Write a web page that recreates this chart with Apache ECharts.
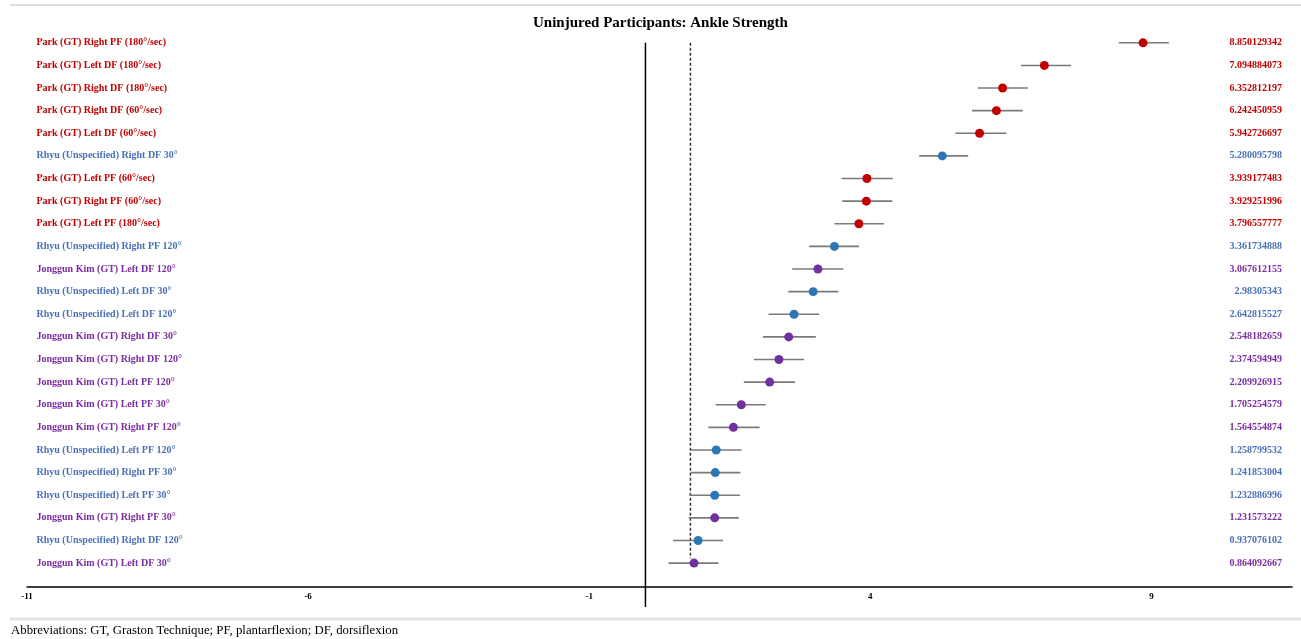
<!DOCTYPE html>
<html><head><meta charset="utf-8">
<script src="https://cdn.jsdelivr.net/npm/echarts@6/dist/echarts.min.js"></script>
<style>html,body{margin:0;padding:0;background:#fff}#c{width:1301px;height:639px}</style>
</head><body><div id="c"></div>
<script>
const labels = [
  'Park (GT) Right PF (180°/sec)',
  'Park (GT) Left DF (180°/sec)',
  'Park (GT) Right DF (180°/sec)',
  'Park (GT) Right DF (60°/sec)',
  'Park (GT) Left DF (60°/sec)',
  'Rhyu (Unspecified) Right DF 30°',
  'Park (GT) Left PF (60°/sec)',
  'Park (GT) Right PF (60°/sec)',
  'Park (GT) Left PF (180°/sec)',
  'Rhyu (Unspecified) Right PF 120°',
  'Jonggun Kim (GT) Left DF 120°',
  'Rhyu (Unspecified) Left DF 30°',
  'Rhyu (Unspecified) Left DF 120°',
  'Jonggun Kim (GT) Right DF 30°',
  'Jonggun Kim (GT) Right DF 120°',
  'Jonggun Kim (GT) Left PF 120°',
  'Jonggun Kim (GT) Left PF 30°',
  'Jonggun Kim (GT) Right PF 120°',
  'Rhyu (Unspecified) Left PF 120°',
  'Rhyu (Unspecified) Right PF 30°',
  'Rhyu (Unspecified) Left PF 30°',
  'Jonggun Kim (GT) Right PF 30°',
  'Rhyu (Unspecified) Right DF 120°',
  'Jonggun Kim (GT) Left DF 30°'
];
const studies = [
  'Park','Park','Park','Park','Park','Rhyu','Park','Park','Park','Rhyu','Kim','Rhyu',
  'Rhyu','Kim','Kim','Kim','Kim','Kim','Rhyu','Rhyu','Rhyu','Kim','Rhyu','Kim'
];
const estimates = [
  8.850129342, 7.094884073, 6.352812197, 6.242450959, 5.942726697, 5.280095798,
  3.939177483, 3.929251996, 3.796557777, 3.361734888, 3.067612155, 2.98305343,
  2.642815527, 2.548182659, 2.374594949, 2.209926915, 1.705254579, 1.564554874,
  1.258799532, 1.241853004, 1.232886996, 1.231573222, 0.937076102, 0.864092667
];
const lowerCI = [
  8.42, 6.68, 5.91, 5.81, 5.51, 4.87,
  3.49, 3.50, 3.36, 2.91, 2.61, 2.54,
  2.19, 2.09, 1.93, 1.75, 1.25, 1.12,
  0.80, 0.80, 0.78, 0.77, 0.49, 0.41
];
const upperCI = [
  9.31, 7.57, 6.80, 6.71, 6.42, 5.74,
  4.40, 4.39, 4.24, 3.80, 3.52, 3.43,
  3.09, 3.03, 2.82, 2.66, 2.14, 2.03,
  1.71, 1.69, 1.68, 1.66, 1.38, 1.30
];
const xTicks = [-11, -6, -1, 4, 9];
const nullEffect = 0;
const pooledEffect = 0.8;
const nullLineRows = [0, 24.94];
const pooledLineRows = [0, 22.8];

const textColors = { Park: '#C00000', Rhyu: '#4A70B8', Kim: '#7A2CA0' };
const pointColors = { Park: '#C00000', Rhyu: '#2E75B6', Kim: '#7030A0' };
const serif = "'Liberation Serif', 'DejaVu Serif', serif";

const rows = labels.map((_, i) => i);
const chart = echarts.init(document.getElementById('c'), null, { renderer: 'canvas' });

const option = {
  backgroundColor: '#fff',
  animation: false,
  title: [
    { text: 'Uninjured Participants: Ankle Strength', left: 528, top: 11,
      textStyle: { fontFamily: serif, fontWeight: 'bold', fontSize: 15, color: '#000' } },
    { text: 'Abbreviations: GT, Graston Technique; PF, plantarflexion; DF, dorsiflexion', left: 11, top: 624, padding: 0,
      textStyle: { fontFamily: serif, fontWeight: 'normal', fontSize: 12.8, color: '#000' } }
  ],
  graphic: [
    { type: 'line', shape: { x1: 10, y1: 5, x2: 1301, y2: 5 }, style: { stroke: '#dcdcdc', lineWidth: 2 } },
    { type: 'line', shape: { x1: 10, y1: 619, x2: 1301, y2: 619 }, style: { stroke: '#e3e3e3', lineWidth: 3 } }
  ],
  grid: { left: 27, right: 9, top: 31.5, bottom: 64.6, containLabel: false },
  xAxis: {
    type: 'value', position: 'bottom', min: -11, max: 11.5, interval: 5, offset: 12,
    axisLine: { show: true, onZero: false, lineStyle: { color: '#000', width: 1.5 } },
    axisTick: { show: false },
    splitLine: { show: false },
    axisLabel: { customValues: xTicks, fontFamily: serif, fontWeight: 'bold', fontSize: 9, color: '#000', margin: 6 }
  },
  yAxis: [
    { type: 'value', min: -0.5, max: 23.5, inverse: true, show: false },
    { type: 'category', data: labels, inverse: true, position: 'left', offset: -9.5,
      axisLine: { show: false }, axisTick: { show: false }, splitLine: { show: false },
      axisLabel: { align: 'left', margin: 0, fontFamily: serif, fontWeight: 'bold', fontSize: 10,
        color: (v, i) => textColors[studies[i]] } },
    { type: 'category', data: estimates.map(v => String(v)), inverse: true, position: 'right', offset: -10,
      axisLine: { show: false }, axisTick: { show: false }, splitLine: { show: false },
      axisLabel: { align: 'right', margin: 0, fontFamily: serif, fontWeight: 'bold', fontSize: 10,
        color: (v, i) => textColors[studies[i]] } }
  ],
  series: [
    { type: 'line', yAxisIndex: 0, clip: false, silent: true, symbol: 'none', z: 1,
      data: nullLineRows.map(r => [nullEffect, r]),
      lineStyle: { color: '#000', width: 1.5 } },
    { type: 'line', yAxisIndex: 0, clip: false, silent: true, symbol: 'none', z: 1,
      data: pooledLineRows.map(r => [pooledEffect, r]),
      lineStyle: { color: '#333', width: 1.5, type: [3, 2] } },
    { type: 'custom', yAxisIndex: 0, z: 2,
      data: rows.map(i => [lowerCI[i], upperCI[i], i]),
      renderItem: (params, api) => {
        const a = api.coord([api.value(0), api.value(2)]);
        const b = api.coord([api.value(1), api.value(2)]);
        return { type: 'line', shape: { x1: a[0], y1: a[1], x2: b[0], y2: b[1] },
          style: { stroke: '#7a7a7a', lineWidth: 1.6 } };
      },
      encode: { x: [0, 1], y: 2 } },
    { type: 'scatter', yAxisIndex: 0, z: 3, symbol: 'circle', symbolSize: 9,
      itemStyle: { opacity: 1 },
      data: rows.map(i => ({ value: [estimates[i], i], itemStyle: { color: pointColors[studies[i]], opacity: 1 } })) }
  ]
};
chart.setOption(option);
</script>
</body></html>
